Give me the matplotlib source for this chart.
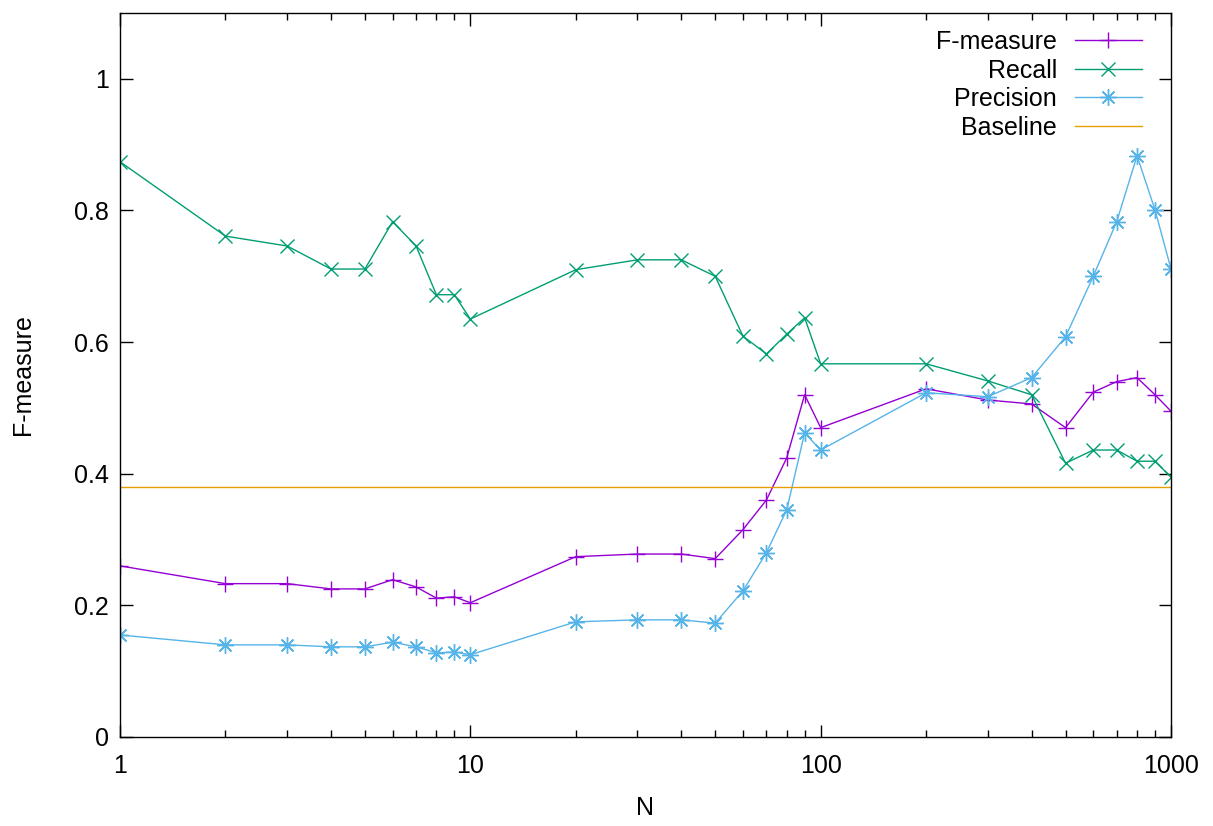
import matplotlib
matplotlib.use("Agg")
import matplotlib.pyplot as plt
from matplotlib.ticker import LogLocator, NullFormatter, FixedLocator, FixedFormatter

plt.rcParams['font.family'] = ['Liberation Sans', 'DejaVu Sans']

N = [1, 2, 3, 4, 5, 6, 7, 8, 9, 10, 20, 30, 40, 50, 60, 70, 80, 90, 100,
     200, 300, 400, 500, 600, 700, 800, 900, 1000]
fmeasure = [0.260, 0.233, 0.233, 0.225, 0.225, 0.239, 0.228, 0.211, 0.213, 0.204,
            0.274, 0.278, 0.278, 0.271, 0.315, 0.360, 0.424, 0.520, 0.470,
            0.529, 0.512, 0.506, 0.470, 0.524, 0.540, 0.546, 0.520, 0.495]
recall = [0.874, 0.761, 0.746, 0.711, 0.711, 0.783, 0.746, 0.672, 0.672, 0.635,
          0.710, 0.725, 0.725, 0.700, 0.609, 0.582, 0.612, 0.637, 0.567,
          0.567, 0.541, 0.520, 0.416, 0.436, 0.436, 0.419, 0.419, 0.395]
precision = [0.155, 0.140, 0.140, 0.137, 0.137, 0.144, 0.137, 0.128, 0.129, 0.125,
             0.175, 0.178, 0.178, 0.173, 0.222, 0.280, 0.345, 0.462, 0.436,
             0.523, 0.517, 0.546, 0.608, 0.700, 0.783, 0.883, 0.801, 0.711]
baseline = 0.380

yticks = [0, 0.2, 0.4, 0.6, 0.8, 1.0]
ytick_labels = ['0', '0.2', '0.4', '0.6', '0.8', '1']
xticks = [1, 10, 100, 1000]
xtick_labels = ['1', '10', '100', '1000']

FS = 18
fig = plt.figure(figsize=(12.13, 8.26), dpi=100)
ax = fig.add_axes([120/1213, 1-737/826, (1171-120)/1213, (737-13)/826])

ax.plot(N, fmeasure, color='#9400d3', lw=1, marker='+', ms=12, mew=1, label='F-measure')
ax.plot(N, recall, color='#009e73', lw=1, marker='x', ms=10, mew=1, label='Recall')
ax.plot(N, precision, color='#56b4e9', lw=1, marker=(8, 2, 0), ms=12, mew=1, label='Precision')
ax.axhline(baseline, color='#e69f00', lw=1, label='Baseline')

ax.set_xscale('log')
ax.set_xlim(1, 1000)
ax.set_ylim(0, 1.1)
ax.xaxis.set_major_locator(FixedLocator(xticks))
ax.xaxis.set_major_formatter(FixedFormatter(xtick_labels))
ax.xaxis.set_minor_locator(LogLocator(base=10, subs=range(2, 10)))
ax.xaxis.set_minor_formatter(NullFormatter())
ax.yaxis.set_major_locator(FixedLocator(yticks))
ax.yaxis.set_major_formatter(FixedFormatter(ytick_labels))

ax.tick_params(which='both', direction='in', top=True, right=True, labelsize=FS)
ax.tick_params(axis='x', pad=12)
ax.tick_params(axis='y', pad=8)
ax.tick_params(which='major', length=9, width=1)
ax.tick_params(which='minor', length=5, width=1)
for s in ax.spines.values():
    s.set_linewidth(1)

ax.set_xlabel('N', fontsize=FS, labelpad=13)
ax.set_ylabel('F-measure', fontsize=FS, labelpad=28)

leg = ax.legend(loc='upper right', frameon=False, markerfirst=False, fontsize=FS,
                handlelength=2.7, handletextpad=0.7, labelspacing=0.18,
                borderaxespad=0, bbox_to_anchor=((1152-120)/1051, 0.990))
for t in leg.get_texts():
    t.set_ha('right')

fig.savefig('out.png', dpi=100)
